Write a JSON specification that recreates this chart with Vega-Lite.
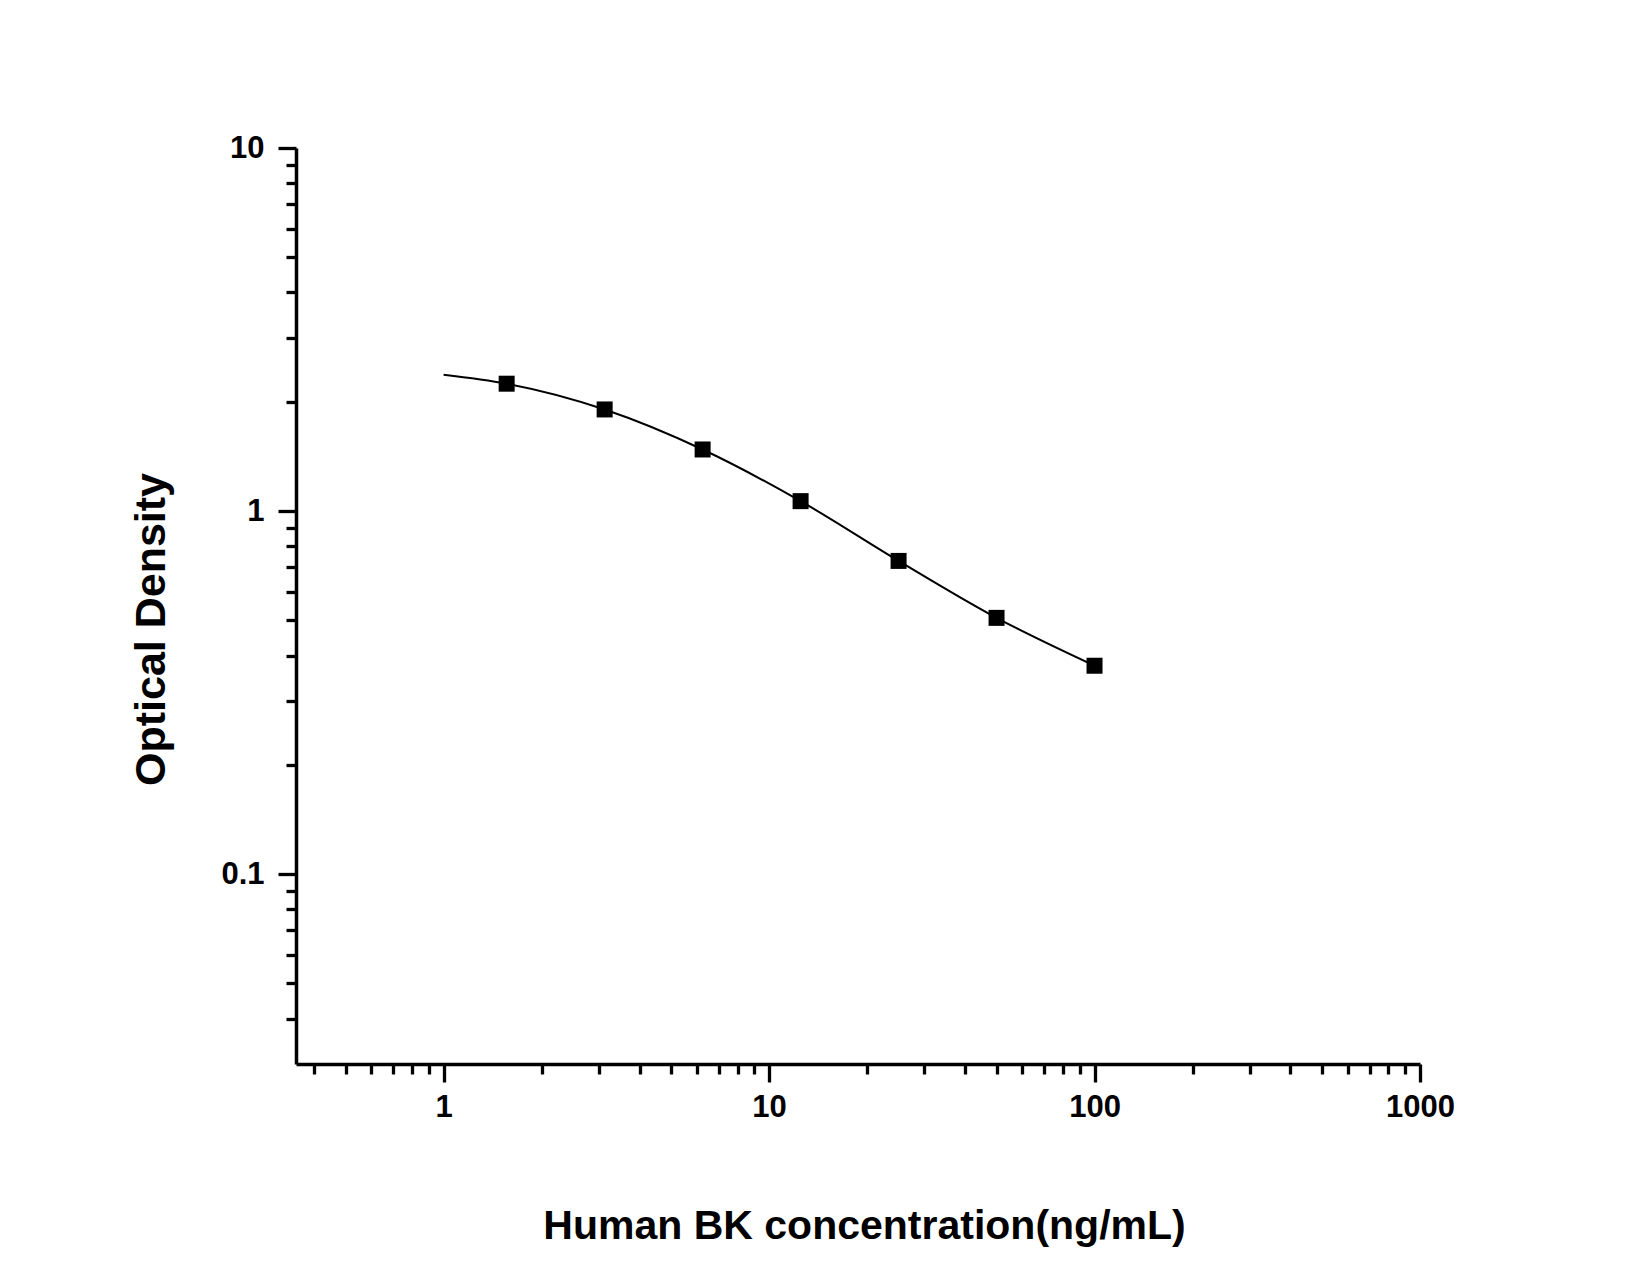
{
  "$schema": "https://vega.github.io/schema/vega-lite/v6.json",
  "width": 1124,
  "height": 916,
  "autosize": "none",
  "padding": {"left": 296, "top": 148, "right": 230, "bottom": 211},
  "background": "white",
  "config": {
    "view": {"stroke": null},
    "font": "Liberation Sans",
    "axis": {
      "grid": false,
      "domainColor": "black",
      "domainWidth": 3.5,
      "tickColor": "black",
      "tickWidth": 3.3,
      "labelColor": "black",
      "labelFont": "Liberation Sans",
      "labelFontSize": 31,
      "labelFontWeight": "bold",
      "labelOverlap": false,
      "labelFlush": false,
      "titleColor": "black",
      "titleFont": "Liberation Sans",
      "titleFontWeight": "bold"
    }
  },
  "datasets": {
    "standards": [
      {"conc": 1.5625, "od": 2.243},
      {"conc": 3.125, "od": 1.905},
      {"conc": 6.25, "od": 1.478},
      {"conc": 12.5, "od": 1.065},
      {"conc": 25, "od": 0.729},
      {"conc": 50, "od": 0.508},
      {"conc": 100, "od": 0.375}
    ],
    "fit": [
      {"conc": 1, "od": 2.374},
      {"conc": 1.5625, "od": 2.243},
      {"conc": 3.125, "od": 1.905},
      {"conc": 6.25, "od": 1.478},
      {"conc": 12.5, "od": 1.065},
      {"conc": 25, "od": 0.729},
      {"conc": 50, "od": 0.508},
      {"conc": 100, "od": 0.375}
    ]
  },
  "encoding": {
    "x": {
      "field": "conc",
      "type": "quantitative",
      "title": "Human BK concentration(ng/mL)",
      "scale": {"type": "log", "domain": [0.352, 1000], "nice": false},
      "axis": {
        "values": [0.4, 0.5, 0.6, 0.7, 0.8, 0.9, 1, 2, 3, 4, 5, 6, 7, 8, 9, 10, 20, 30, 40, 50, 60, 70, 80, 90, 100, 200, 300, 400, 500, 600, 700, 800, 900, 1000],
        "format": "~g",
        "labelExpr": "indexof([1, 10, 100, 1000], datum.value) >= 0 ? datum.label : ''",
        "tickSize": {"condition": {"test": "indexof([1, 10, 100, 1000], datum.value) >= 0", "value": 18}, "value": 10},
        "labelPadding": 10,
        "titleFontSize": 41,
        "titlePadding": 84,
        "titleX": 568
      }
    },
    "y": {
      "field": "od",
      "type": "quantitative",
      "title": "Optical Density",
      "scale": {"type": "log", "domain": [0.03, 10], "nice": false},
      "axis": {
        "values": [0.04, 0.05, 0.06, 0.07, 0.08, 0.09, 0.1, 0.2, 0.3, 0.4, 0.5, 0.6, 0.7, 0.8, 0.9, 1, 2, 3, 4, 5, 6, 7, 8, 9, 10],
        "format": "~g",
        "labelExpr": "indexof([0.1, 1, 10], datum.value) >= 0 ? datum.label : ''",
        "tickSize": {"condition": {"test": "indexof([0.1, 1, 10], datum.value) >= 0", "value": 18}, "value": 10},
        "labelPadding": 14,
        "titleFontSize": 43,
        "titlePadding": 47,
        "titleY": 481
      }
    }
  },
  "layer": [
    {
      "data": {"name": "fit"},
      "mark": {"type": "line", "color": "black", "strokeWidth": 2, "interpolate": "monotone"}
    },
    {
      "data": {"name": "standards"},
      "mark": {"type": "point", "shape": "square", "filled": true, "color": "black", "opacity": 1, "size": 256}
    }
  ]
}
